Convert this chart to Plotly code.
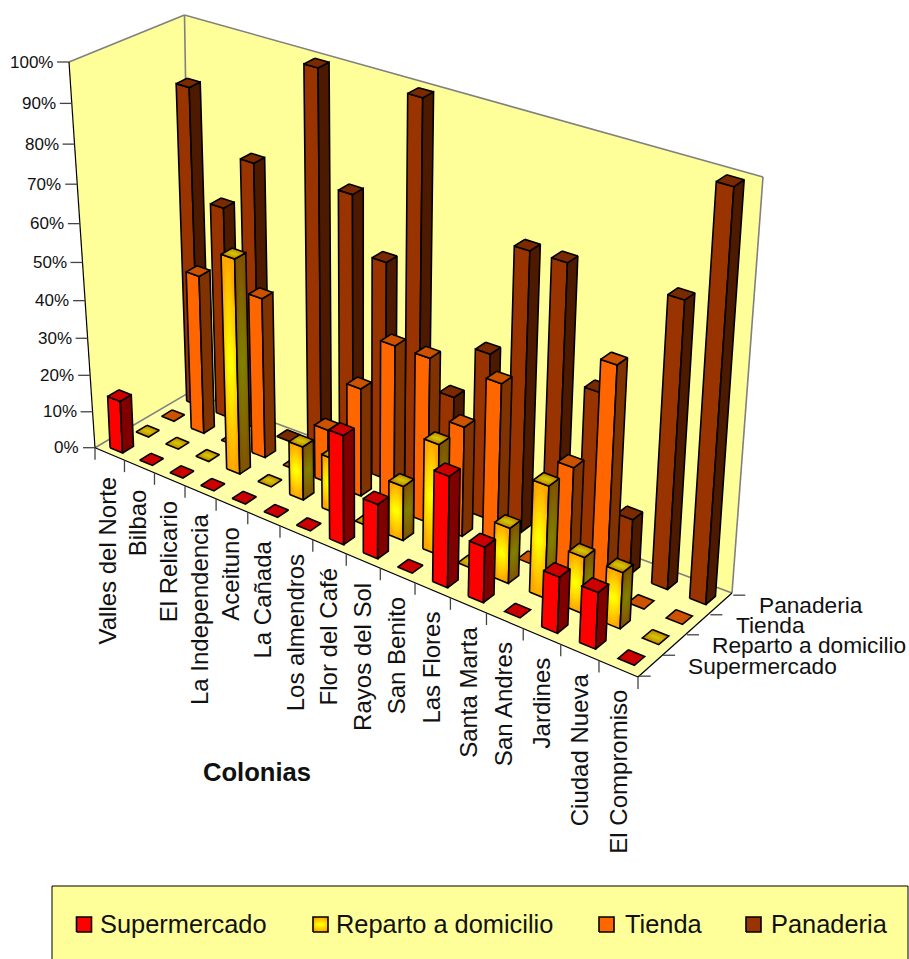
import numpy as np
import plotly.graph_objects as go

COLONIAS = ["Valles del Norte", "Bilbao", "El Relicario", "La Independencia", "Aceituno", "La Cañada",
            "Los almendros", "Flor del Café", "Rayos del Sol", "San Benito", "Las Flores", "Santa Marta",
            "San Andres", "Jardines", "Ciudad Nueva", "El Compromiso"]
SERIES = ["Supermercado", "Reparto a domicilio", "Tienda", "Panaderia"]
SUPERMERCADO = [14.3, 0, 0, 0, 0, 0, 0, 28.6, 14.3, 0, 28.6, 14.3, 0, 14.3, 14.3, 0]
REPARTO = [0, 0, 0, 57.1, 0, 14.3, 14.3, 0, 14.3, 28.6, 0, 14.3, 28.6, 14.3, 14.3, 0]
TIENDA = [0, 42.9, 0, 42.9, 0, 14.3, 28.6, 42.9, 42.9, 28.6, 42.9, 0, 28.6, 57.1, 0, 0]
PANADERIA = [85.7, 57.1, 71.4, 0, 100, 71.4, 57.1, 100, 28.6, 42.9, 71.4, 71.4, 42.9, 14.3, 71.4, 100]
VALUES = [SUPERMERCADO, REPARTO, TIENDA, PANADERIA]
PCT_TICKS = list(range(0, 101, 10))

# Perspective camera: (colonia, serie, percent) -> screen position
CAMERA = np.array([
    [28.5021, 27.2899, -0.245758, 93.9732],
    [8.33359, -11.8055, -3.86649, 448.936],
    [-0.00867735, 0.0094547, -0.000677514, 1.0],
])

BAR_WIDTH = 0.42
FONT = "Liberation Sans"
WALL = "#FFFF99"
FLOOR = "#FFFFAA"
GRAY = "#808080"
TICK = "#444444"
FACE = {
    0: dict(front="#FF0000", side="#800000", top="#CC0000"),
    2: dict(front="#FF6600", side="#803300", top="#CC5200"),
    3: dict(front="#993300", side="#4D1A00", top="#7A2900"),
}
# Reparto faces fade radially between an edge colour and a centre colour
GRADIENT = dict(front=((255, 165, 0), (255, 255, 0)),
                side=((128, 83, 0), (128, 128, 0)),
                top=((204, 132, 0), (204, 204, 0)))
RINGS = 10

# Frame of the plot box on screen
A0, B0, C0, D0 = (95, 447.7), (638, 677), (732, 593), (190.7, 391.6)
A1, C1, D1 = (69, 62), (763, 177), (184.5, 15)


def project(x, y, z):
    h = CAMERA @ np.array([x, y, z, 1.0])
    return h[0] / h[2], h[1] / h[2]


def wall_axis(pct):
    """Point on the percent axis, which foreshortens slightly towards 0%."""
    t = pct / 100
    f = t / (1.082 - 0.082 * t)
    return A0[0] + (A1[0] - A0[0]) * f, A0[1] + (A1[1] - A0[1]) * f


fig = go.Figure()


def poly(points, fill=None, edge=None, width=1.6, name=None):
    xs = [p[0] for p in points]
    ys = [p[1] for p in points]
    if fill:
        xs, ys = xs + xs[:1], ys + ys[:1]
    fig.add_trace(go.Scatter(
        x=xs, y=ys, mode="lines", fill="toself" if fill else "none",
        fillcolor=fill, line=dict(color=edge or "rgba(0,0,0,0)", width=width if edge else 0),
        hoverinfo="skip", showlegend=False, name=name))


def segments(pairs, color, width):
    xs, ys = [], []
    for p, q in pairs:
        xs += [p[0], q[0], None]
        ys += [p[1], q[1], None]
    fig.add_trace(go.Scatter(x=xs, y=ys, mode="lines", line=dict(color=color, width=width),
                             hoverinfo="skip", showlegend=False))


def rgb(c):
    return f"rgb({int(c[0])},{int(c[1])},{int(c[2])})"


def radial_face(corners, colours):
    """Fill a quad with nested ellipses fading from the edge colour to the centre colour."""
    edge_c, centre_c = colours
    c = np.array(corners, float)
    poly(corners, fill=rgb(edge_c))
    ang = np.linspace(0, 2 * np.pi, 40, endpoint=False)
    for k in range(RINGS):
        r = 1 - k / RINGS
        colour = np.array(edge_c) + (np.array(centre_c) - np.array(edge_c)) * (k + 1) / RINGS
        ring = []
        for a in ang:
            sx = 0.5 + 0.5 * min(1.0, r ** 0.5 * 1.15) * np.cos(a)
            sy = 0.5 + 0.5 * r * np.sin(a)
            p = (1 - sy) * ((1 - sx) * c[0] + sx * c[1]) + sy * ((1 - sx) * c[3] + sx * c[2])
            ring.append(tuple(p))
        poly(ring, fill=rgb(colour))
    poly(corners + corners[:1], edge="black")


def face(corners, series, kind, name):
    if series == 1:
        radial_face(corners, GRADIENT[kind])
    else:
        poly(corners, fill=FACE[series][kind], edge="black", name=name)


def draw_bar(i, j, value, name):
    half = BAR_WIDTH / 2
    x0, x1 = i + 0.5 - half, i + 0.5 + half
    y0, y1 = j + 0.5 - half, j + 0.5 + half
    if value > 0:
        face([project(x0, y0, 0), project(x1, y0, 0), project(x1, y0, value), project(x0, y0, value)], j, "front", name)
        face([project(x1, y0, 0), project(x1, y1, 0), project(x1, y1, value), project(x1, y0, value)], j, "side", name)
    face([project(x0, y1, value), project(x1, y1, value), project(x1, y0, value), project(x0, y0, value)], j, "top", name)


# Walls and floor
poly([A0, A1, D1, D0], fill=WALL)
poly([D0, D1, C1, C0], fill=WALL)
poly([A0, B0, C0, D0], fill=FLOOR)
segments([(A1, D1), (D1, C1), (D1, D0), (C1, C0), (A0, D0), (D0, C0)], GRAY, 1.6)
segments([(A0, A1), (A0, B0), (B0, C0)], "black", 1.2)

# Axis ticks; category ticks are kept on the front edge of the floor
first_x, last_x = project(0, 0, 0)[0], project(len(COLONIAS), 0, 0)[0]
cat_ticks = []
for i in range(len(COLONIAS) + 1):
    f = (project(i, 0, 0)[0] - first_x) / (last_x - first_x)
    cat_ticks.append((A0[0] + (B0[0] - A0[0]) * f, A0[1] + (B0[1] - A0[1]) * f))
segments([(p, (p[0], p[1] + 12)) for p in cat_ticks], TICK, 1.3)
ser_ticks = [project(16, j, 0) for j in range(5)]
segments([(p, (p[0] + 12, p[1])) for p in ser_ticks], TICK, 1.3)
segments([(wall_axis(v), (wall_axis(v)[0] - 12, wall_axis(v)[1])) for v in PCT_TICKS], TICK, 1.3)

# Bars, painted from the back row forwards
for j in range(3, -1, -1):
    for i, colonia in enumerate(COLONIAS):
        draw_bar(i, j, VALUES[j][i], f"{SERIES[j]} - {colonia}")

annotations = []


def label(x, y, text, size, xanchor="center", yanchor="middle", angle=0, bold=False):
    annotations.append(dict(x=x, y=y, xref="x", yref="y", text=f"<b>{text}</b>" if bold else text,
                            showarrow=False, xanchor=xanchor, yanchor=yanchor, textangle=angle,
                            borderpad=0, font=dict(family=FONT, size=size, color="#111111")))


for v in PCT_TICKS:
    px, py = wall_axis(v)
    label(px - 15, py, f"{v}%", 17, xanchor="right")
for i, colonia in enumerate(COLONIAS):
    px, py = project(i + 0.5, 0, 0)
    label(px - 0.8, py + 20.5, colonia, 24, yanchor="top", angle=-90)
for j, serie in enumerate(SERIES):
    px, py = project(16, j + 0.5, 0)
    label(px + 36, py, serie, 22.7, xanchor="left")
label(257, 772, "Colonias", 25.6, bold=True)

# Legend panel
LEGEND_SWATCH_X = [76.5, 313, 599, 746]
LEGEND_TEXT_X = [99, 334.5, 623.5, 769.5]
legend_box = dict(type="rect", xref="x", yref="y", x0=52, x1=908, y0=886, y1=962,
                  fillcolor=WALL, line=dict(color="black", width=1), layer="below")
for j, serie in enumerate(SERIES):
    sx = LEGEND_SWATCH_X[j]
    sq = [(sx, 932), (sx + 15, 932), (sx + 15, 917), (sx, 917)]
    if j == 1:
        radial_face(sq, GRADIENT["front"])
    else:
        poly(sq, fill=FACE[j]["front"], edge="black")
    label(LEGEND_TEXT_X[j], 924, serie, 25.4, xanchor="left")

fig.update_layout(
    width=909, height=959, margin=dict(l=0, r=0, t=0, b=0), autosize=False,
    paper_bgcolor="white", plot_bgcolor="white", showlegend=False,
    xaxis=dict(range=[0, 909], visible=False, fixedrange=True),
    yaxis=dict(range=[959, 0], visible=False, fixedrange=True),
    annotations=annotations, shapes=[legend_box],
)
fig.write_html("out.html")
